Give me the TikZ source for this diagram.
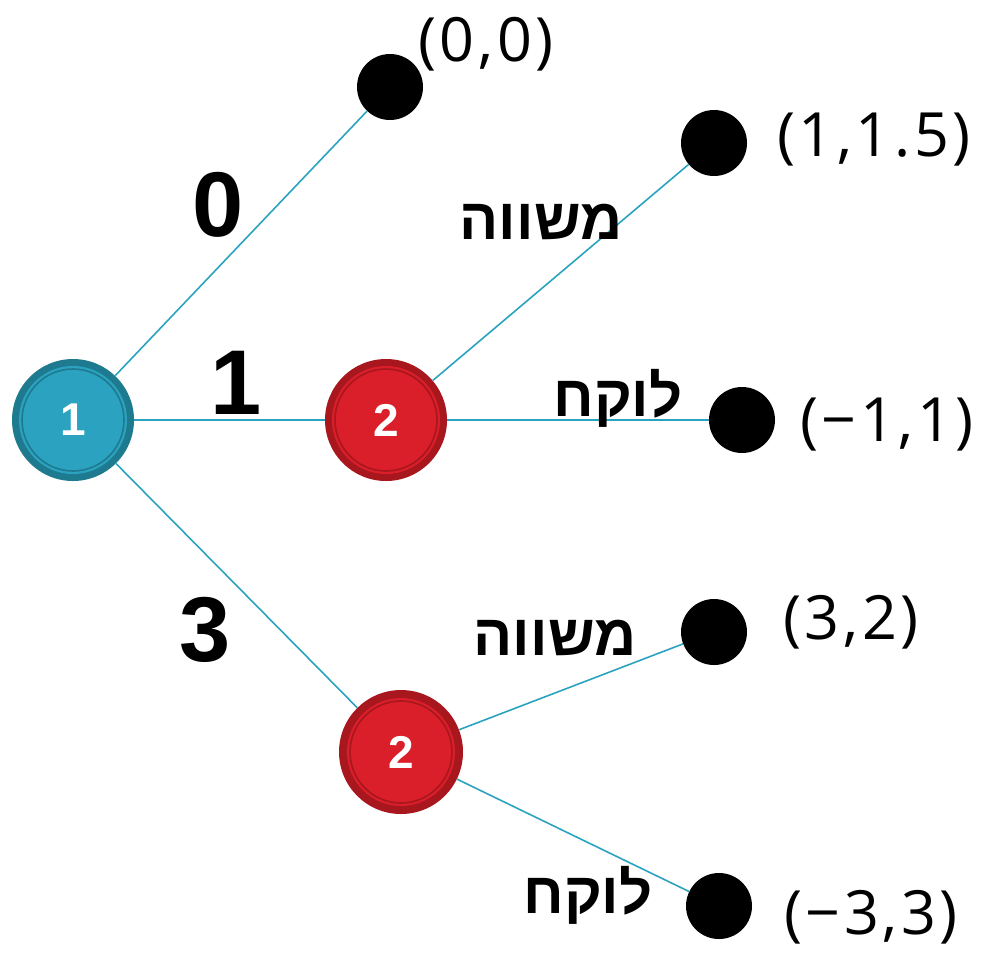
\documentclass[tikz,border=0pt]{standalone}
\usepackage{fontspec}
\setmainfont{Liberation Sans}
\newfontfamily\hebfont[Script=Hebrew]{Liberation Sans}
\newfontfamily\coordfont[LetterSpace=6]{Open Sans}
\TeXXeTstate=1
\definecolor{tealfill}{HTML}{2BA3C0}
\definecolor{tealdark}{HTML}{1E7A8F}
\definecolor{redfill}{HTML}{DA1F2A}
\definecolor{reddark}{HTML}{A8161E}
\definecolor{edgecol}{HTML}{2BA3C0}
\tikzset{
  pnode/.style={circle, inner sep=0pt, minimum size=122pt, fill=#1dark, text=white,
    font=\fontsize{46}{50}\selectfont\bfseries,
    path picture={\fill[#1fill] (path picture bounding box.center) circle (54pt);
      \draw[#1dark, line width=1.6pt] (path picture bounding box.center) circle (51pt);}},
  leaf/.style={circle, fill=black, inner sep=0pt, minimum size=66pt},
  edge/.style={draw=edgecol, line width=1.6pt},
  actlab/.style={font=\fontsize{92}{96}\selectfont\bfseries},
  heblab/.style={font=\hebfont\fontsize{58}{62}\selectfont\bfseries},
  paylab/.style={font=\coordfont\fontsize{61}{66}\selectfont},
}
\begin{document}
\begin{tikzpicture}[x=1pt,y=-1pt]
\useasboundingbox (0,0) rectangle (981,954);
\node[leaf] (l00) at (390,87) {};
\node[leaf] (l115) at (714,143) {};
\node[leaf] (lm11) at (742,420) {};
\node[leaf] (l32) at (714,632) {};
\node[leaf] (lm33) at (719,906) {};
\node[pnode=teal] (p1) at (73,420) {1};
\node[pnode=red] (p2a) at (386,420) {2};
\node[pnode=red, minimum size=124pt] (p2b) at (401,752) {2};
\draw[edge] (p1) -- (l00);
\draw[edge] (p1) -- (p2a);
\draw[edge] (p1) -- (p2b);
\draw[edge] (p2a) -- (l115);
\draw[edge] (p2a) -- (lm11);
\draw[edge] (p2b) -- (l32);
\draw[edge] (p2b) -- (lm33);
\node[actlab] (a0) at (218,205) {0};
\node[actlab] (a1) at (236,383) {1};
\node[actlab] (a3) at (205,630) {3};
\node[heblab] (h1) at (541,222) {\beginR משווה\endR};
\node[heblab] (h2) at (618,398) {\beginR לוקח\endR};
\node[heblab] (h3) at (555,638) {\beginR משווה\endR};
\node[heblab] (h4) at (588,895) {\beginR לוקח\endR};
\node[paylab] (t1) at (486,44) {(0,0)};
\node[paylab] (t2) at (874,140) {(1,1.5)};
\node[paylab] (t3) at (887,425) {(−1,1)};
\node[paylab] (t4) at (851,622) {(3,2)};
\node[paylab] (t5) at (871,917) {(−3,3)};
\end{tikzpicture}
\end{document}
